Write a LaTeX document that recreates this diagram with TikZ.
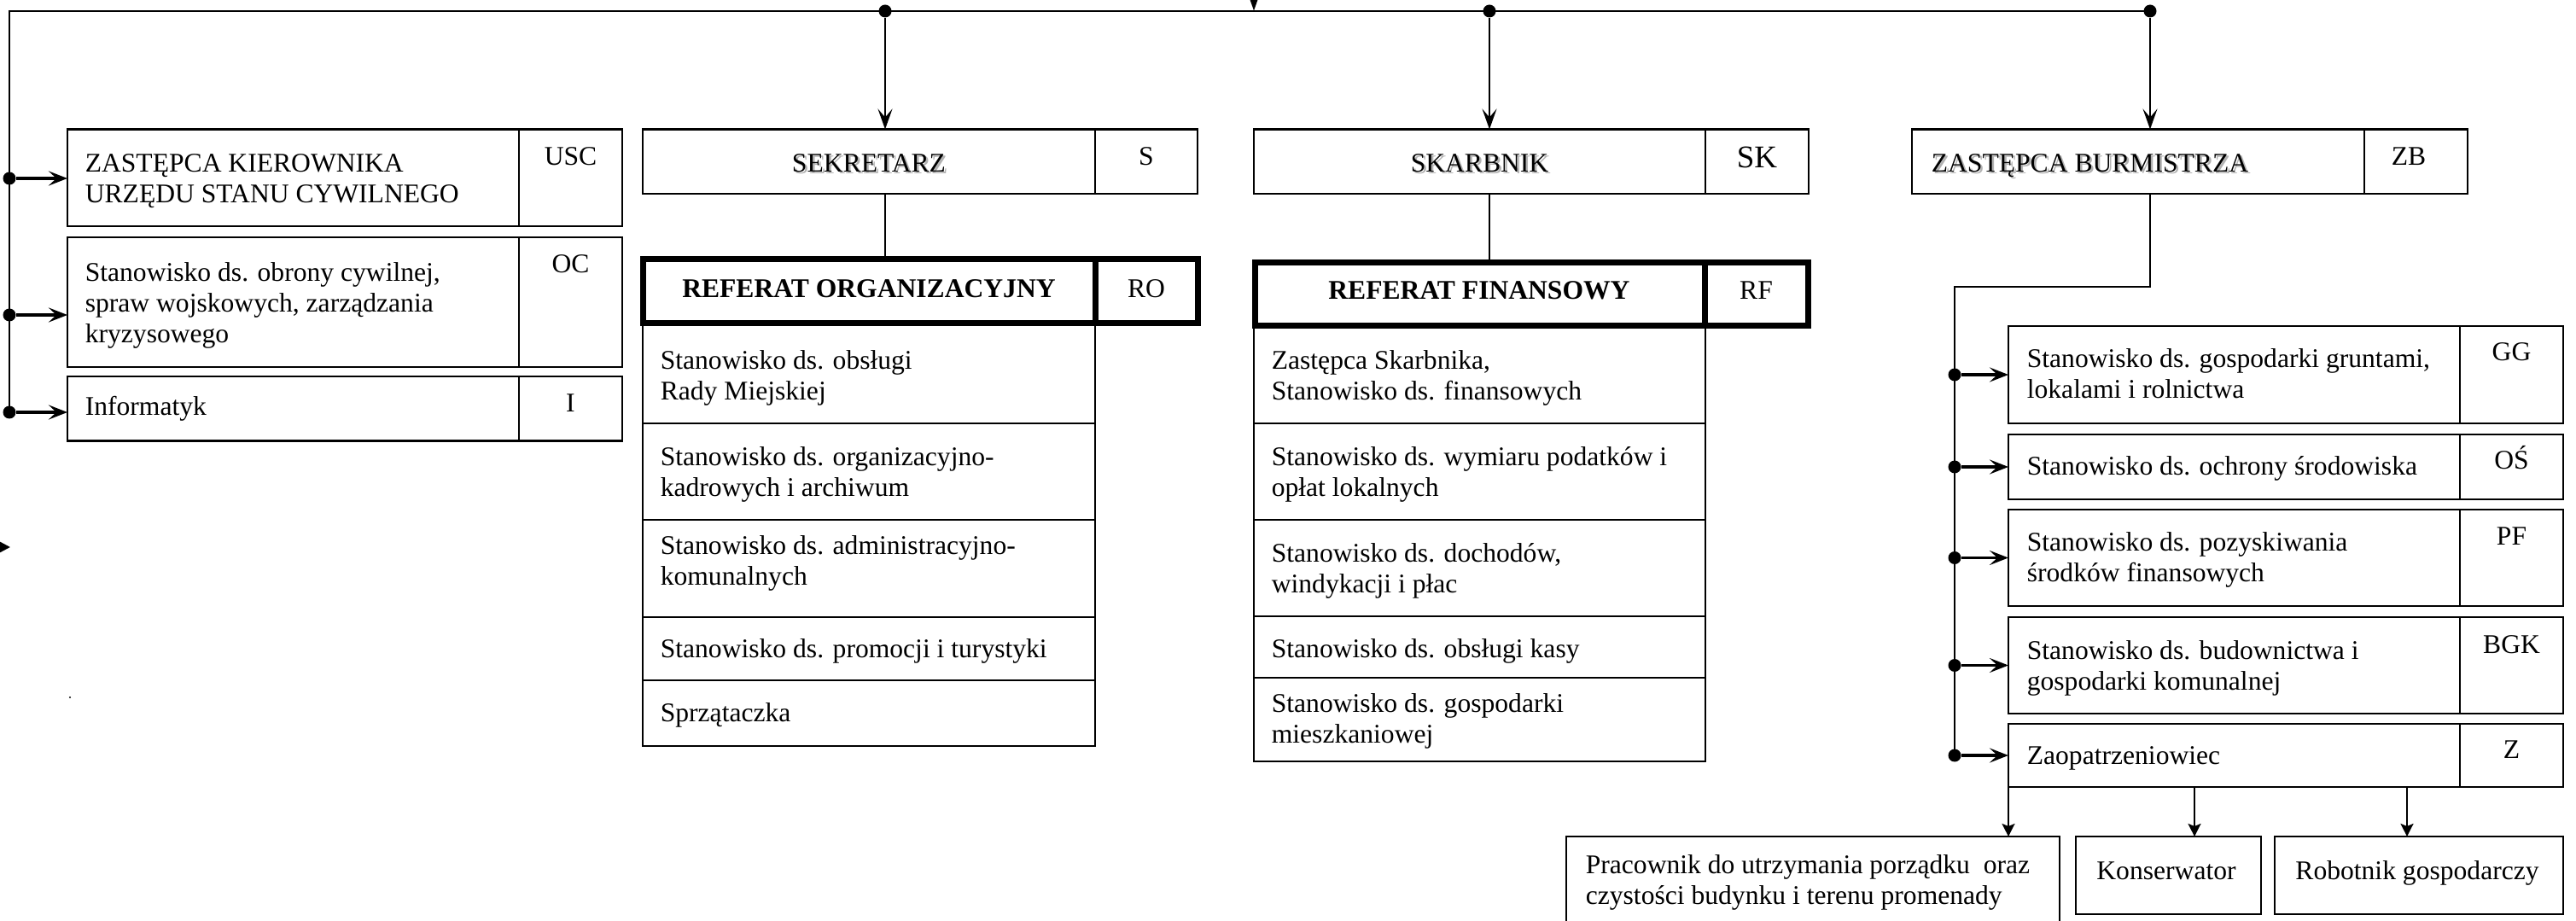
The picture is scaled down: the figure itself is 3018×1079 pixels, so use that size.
\documentclass[tikz,border=0pt]{standalone}
\usepackage{fontspec}
\setmainfont{Liberation Serif}
\usetikzlibrary{arrows.meta,calc}
\newcommand\myfs{\fontsize{7.9pt}{9pt}\selectfont}
\newcommand\myfsbig{\fontsize{9.25pt}{10pt}\selectfont}
\newcommand\mybox[6][]{\node[bx,#1,minimum width={(#5-#3)*0.25pt},minimum height={(#6-#4)*0.25pt}] (#2) at ({(#3+#5)/2},{(#4+#6)/2}) {};}
\begin{document}
\begin{tikzpicture}[x=0.25pt,y=-0.25pt,
  bx/.style={draw,rectangle,line width=0.6pt,inner sep=0,outer sep=0},
  thickbx/.style={line width=1.75pt},
  desc/.style={anchor=west,align=left,inner sep=0,font=\myfs},
  codetxt/.style={anchor=base,inner sep=0,font=\myfs},
  dot/.style={circle,fill,inner sep=0,minimum size=3.75pt},
  conn/.style={line width=0.55pt},
  varr/.style={conn,-{Stealth[length=6pt,width=4.25pt,inset=2.5pt]}},
  harr/.style={line width=0.85pt,-{Stealth[length=5.5pt,width=4.25pt,inset=2.25pt]}},
  barr/.style={conn,-{Stealth[length=3.75pt,width=3.75pt,inset=0.75pt]}},
  shadowtxt/.style={text=black!30}
]
\useasboundingbox (0,0) rectangle (3018,1079);

% ---------- left column ----------
\mybox{usc}{79}{151.5}{608}{265}
\mybox{uscc}{608}{151.5}{729}{265}
\mybox{oc}{79}{278}{608}{430}
\mybox{occ}{608}{278}{729}{430}
\mybox{inf}{79}{441}{608}{516.5}
\mybox{infc}{608}{441}{729}{516.5}
\node[desc] (usct) at (99,212.5) {ZASTĘPCA KIEROWNIKA\\URZĘDU STANU CYWILNEGO};
\node[desc] (oct) at (99,357.5) {Stanowisko ds. obrony cywilnej,\\spraw wojskowych, zarządzania\\kryzysowego};
\node[desc] (inft) at (99,479) {Informatyk};
\node[codetxt] (usccode) at (668.5,193.5) {USC};
\node[codetxt] (occode) at (668.5,320) {OC};
\node[codetxt] (infcode) at (668.5,483) {I};

% ---------- SEKRETARZ column ----------
\mybox{sek}{753}{151.5}{1283}{227}
\mybox{sekc}{1283}{151.5}{1403}{227}
\node[codetxt,shadowtxt] (sekts) at (1020.5,204) {SEKRETARZ};
\node[codetxt] (sekt) at (1018,201.5) {SEKRETARZ};
\node[codetxt] (sekcode) at (1343,193.5) {S};
\mybox{ro1}{753}{378.5}{1283}{496}
\mybox{ro2}{753}{496}{1283}{609}
\mybox{ro3}{753}{609}{1283}{723}
\mybox{ro4}{753}{723}{1283}{797}
\mybox{ro5}{753}{797}{1283}{874}
\mybox[thickbx]{ro}{753.5}{303.5}{1283}{378.5}
\mybox[thickbx]{roc}{1283}{303.5}{1403.5}{378.5}
\node[inner sep=0,font=\myfs\bfseries] (rot) at (1018,338) {REFERAT ORGANIZACYJNY};
\node[inner sep=0,font=\myfs] (rocode) at (1343,338) {RO};
\node[desc] (ro1t) at (773,442.5) {Stanowisko ds. obsługi\\Rady Miejskiej};
\node[desc] (ro2t) at (773,556) {Stanowisko ds. organizacyjno-\\kadrowych i archiwum};
\node[desc] (ro3t) at (773,659.5) {Stanowisko ds. administracyjno-\\komunalnych};
\node[desc] (ro4t) at (773,763) {Stanowisko ds. promocji i turystyki};
\node[desc] (ro5t) at (773,838) {Sprzątaczka};

% ---------- SKARBNIK column ----------
\mybox{sk}{1469}{151.5}{1998}{227}
\mybox{skc}{1998}{151.5}{2119}{227}
\node[codetxt,shadowtxt] (skts) at (1736,204) {SKARBNIK};
\node[codetxt] (skt) at (1733.5,201.5) {SKARBNIK};
\node[codetxt,font=\myfsbig] (skcode) at (2058.5,197) {SK};
\mybox{rf1}{1469}{381.5}{1998}{496}
\mybox{rf2}{1469}{496}{1998}{609}
\mybox{rf3}{1469}{609}{1998}{722}
\mybox{rf4}{1469}{722}{1998}{794}
\mybox{rf5}{1469}{794}{1998}{892}
\mybox[thickbx]{rf}{1470.5}{307.5}{1997}{381.5}
\mybox[thickbx]{rfc}{1997}{307.5}{2118.5}{381.5}
\node[inner sep=0,font=\myfs\bfseries] (rft) at (1733,340.5) {REFERAT FINANSOWY};
\node[inner sep=0,font=\myfs] (rfcode) at (2057.5,340.5) {RF};
\node[desc] (rf1t) at (1489,442.5) {Zastępca Skarbnika,\\Stanowisko ds. finansowych};
\node[desc] (rf2t) at (1489,555.5) {Stanowisko ds. wymiaru podatków i\\opłat lokalnych};
\node[desc] (rf3t) at (1489,668.5) {Stanowisko ds. dochodów,\\windykacji i płac};
\node[desc] (rf4t) at (1489,763) {Stanowisko ds. obsługi kasy};
\node[desc] (rf5t) at (1489,844.5) {Stanowisko ds. gospodarki\\mieszkaniowej};

% ---------- ZASTEPCA BURMISTRZA column ----------
\mybox{zb}{2240}{151.5}{2770}{227}
\mybox{zbc}{2770}{151.5}{2891}{227}
\node[codetxt,shadowtxt,anchor=base west] (zbts) at (2264.5,204) {ZASTĘPCA BURMISTRZA};
\node[codetxt,anchor=base west] (zbt) at (2262,201.5) {ZASTĘPCA BURMISTRZA};
\node[codetxt] (zbcode) at (2822,193.5) {ZB};

\mybox{gg}{2353}{382}{2882}{496}
\mybox{ggc}{2882}{382}{3003}{496}
\mybox{os}{2353}{509}{2882}{585}
\mybox{osc}{2882}{509}{3003}{585}
\mybox{pf}{2353}{597}{2882}{710}
\mybox{pfc}{2882}{597}{3003}{710}
\mybox{bgk}{2353}{723}{2882}{836}
\mybox{bgkc}{2882}{723}{3003}{836}
\mybox{zz}{2353}{848}{2882}{922}
\mybox{zzc}{2882}{848}{3003}{922}
\node[desc] (ggt) at (2374,438) {Stanowisko ds. gospodarki gruntami,\\lokalami i rolnictwa};
\node[desc] (ost) at (2374,549) {Stanowisko ds. ochrony środowiska};
\node[desc] (pft) at (2374,656) {Stanowisko ds. pozyskiwania\\środków finansowych};
\node[desc] (bgkt) at (2374,783) {Stanowisko ds. budownictwa i\\gospodarki komunalnej};
\node[desc] (zzt) at (2374,888) {Zaopatrzeniowiec};
\node[codetxt] (ggcode) at (2942.5,423) {GG};
\node[codetxt] (oscode) at (2942.5,550) {OŚ};
\node[codetxt] (pfcode) at (2942.5,638) {PF};
\node[codetxt] (bgkcode) at (2942.5,765) {BGK};
\node[codetxt] (zzcode) at (2942.5,888) {Z};

% ---------- bottom row ----------
\mybox{prac}{1835}{980}{2413}{1110}
\mybox{kons}{2432}{980}{2649}{1071}
\mybox{rob}{2665}{980}{3003}{1071}
\node[desc] (pract) at (1857,1033.5) {Pracownik do utrzymania porządku\ \ oraz\\czystości budynku i terenu promenady};
\node[inner sep=0,font=\myfs] (konst) at (2538,1020) {Konserwator};
\node[inner sep=0,font=\myfs] (robt) at (2832,1023) {Robotnik gospodarczy};

% ---------- connectors ----------
\coordinate (tl) at (11,13);
\node[dot] (dsek) at (1037,13) {};
\node[dot] (dsk) at (1745,13) {};
\node[dot] (dzb) at (2519,13) {};
\node[dot] (dusc) at (11,209) {};
\node[dot] (doc) at (11,369) {};
\node[dot] (dinf) at (11,483) {};
\draw[conn,line width=0.7pt] (dinf.center) -- (tl) -- (dzb.center);

\coordinate (topin) at (1469,-40);
\coordinate (topjoin) at (1469,12.5);
\draw[varr] (topin) -- (topjoin);

\draw[varr] (dsek) -- (dsek |- sek.north);
\draw[varr] (dsk) -- (dsk |- sk.north);
\draw[varr] (dzb) -- (dzb |- zb.north);

\draw[harr] (dusc) -- (dusc -| usc.west);
\draw[harr] (doc) -- (doc -| oc.west);
\draw[harr] (dinf) -- (dinf -| inf.west);

\draw[conn] (dsek |- sek.south) -- (dsek |- ro.north);
\draw[conn] (dsk |- sk.south) -- (dsk |- rf.north);

\coordinate (zbk1) at (2519,336);
\coordinate (zbk2) at (2290,336);
\node[dot] (dgg) at (2290,439) {};
\node[dot] (dos) at (2290,547) {};
\node[dot] (dpf) at (2290,653.5) {};
\node[dot] (dbgk) at (2290,779.5) {};
\node[dot] (dzz) at (2290,885) {};
\draw[conn] (zbk1 |- zb.south) -- (zbk1) -- (zbk2) -- (dzz.center);
\draw[harr] (dgg) -- (dgg -| gg.west);
\draw[harr] (dos) -- (dos -| os.west);
\draw[harr] (dpf) -- (dpf -| pf.west);
\draw[harr] (dbgk) -- (dbgk -| bgk.west);
\draw[harr] (dzz) -- (dzz -| zz.west);

\coordinate (za2) at (2571,922);
\coordinate (za3) at (2820,922);
\draw[barr] (zz.south west) -- (zz.south west |- prac.north);
\draw[barr] (za2) -- (za2 |- kons.north);
\draw[barr] (za3) -- (za3 |- rob.north);

% stray marks of the original
\coordinate (lin) at (-30,641);
\coordinate (lout) at (12,641);
\draw[line width=0.6pt,-{Stealth[length=3pt,width=3pt,inset=0pt]}] (lin) -- (lout);
\node[circle,fill,inner sep=0,minimum size=0.6pt] (speck) at (82,817) {};
\end{tikzpicture}
\end{document}
